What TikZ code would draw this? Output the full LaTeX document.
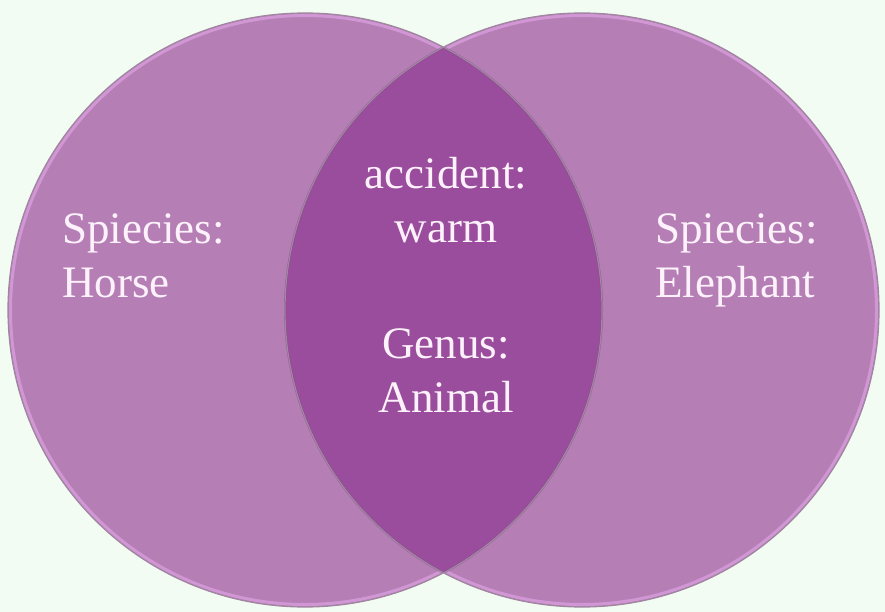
\documentclass[tikz,border=0pt]{standalone}
\usepackage{fontspec}
\setmainfont{Liberation Serif}
\definecolor{bgcol}{RGB}{243,252,243}
\definecolor{setcol}{RGB}{181,127,181}
\definecolor{lenscol}{RGB}{155,77,157}
\definecolor{rimcol}{RGB}{160,135,160}
\definecolor{glowcol}{RGB}{222,160,226}
\definecolor{txtcol}{RGB}{253,242,251}
\tikzset{
	setfill/.style={fill=setcol},
	setrim/.style={draw=rimcol, line width=1.2pt},
	setglow/.style={draw=glowcol, line width=3pt, opacity=0.7},
	label/.style={text=txtcol, font=\fontsize{45}{54}\selectfont, inner sep=0pt},
}
\begin{document}
\begin{tikzpicture}[x=1pt,y=-1pt]
		% Background
		\fill[bgcol] (0,0) rectangle (885,612);
		\useasboundingbox (0,0) rectangle (885,612);
		
		% Sets
		\coordinate (horse) at (305,310);
		\coordinate (elephant) at (582,310);
		\fill[setfill] (horse) circle (297);
		\fill[setfill] (elephant) circle (297);
		\draw[setglow] (horse) circle (294.5);
		\draw[setglow] (elephant) circle (294.5);
		
		% Overlap
		\begin{scope}
			\clip (horse) circle (297);
			\fill[lenscol] (elephant) circle (297);
			\draw[lenscol!80!black, line width=2pt, opacity=0.5] (elephant) circle (297);
		\end{scope}
		\begin{scope}
			\clip (elephant) circle (297);
			\draw[lenscol!80!black, line width=2pt, opacity=0.5] (horse) circle (297);
		\end{scope}
		
		% Rims
		\draw[setrim] (horse) circle (297);
		\draw[setrim] (elephant) circle (297);
		
		% Labels
		\node[label, align=left, anchor=base west] (horsetxt) at (62,297) {Spiecies:\\Horse};
		\node[label, align=left, anchor=base west] (elephanttxt) at (655,297) {Spiecies:\\Elephant};
		\node[label, align=center, anchor=base] (accidenttxt) at (446,242) {accident:\\warm};
		\node[label, align=center, anchor=base] (genustxt) at (446,412) {Genus:\\Animal};
	\end{tikzpicture}
\end{document}
